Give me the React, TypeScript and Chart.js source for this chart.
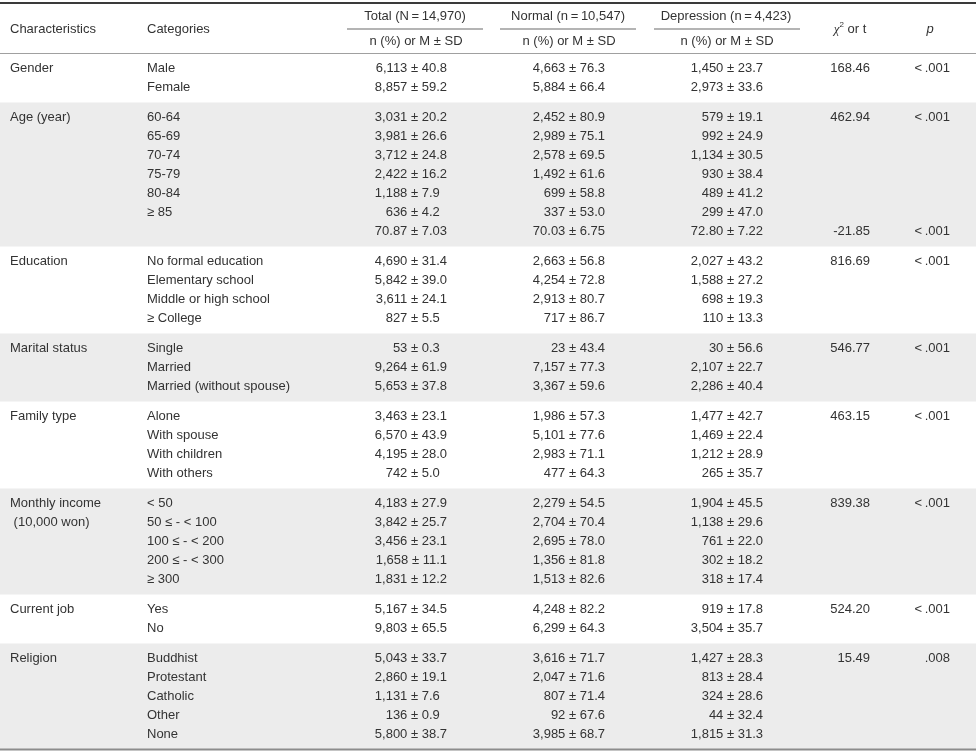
import React, { useEffect, useRef } from 'react';
import { Chart, registerables } from 'chart.js';

Chart.register(...registerables);

const W = 976;
const H = 754;

// ---------- data ----------
const groupNames: string[][] = [
  ['Gender'],
  ['Age (year)'],
  ['Education'],
  ['Marital status'],
  ['Family type'],
  ['Monthly income', ' (10,000 won)'],
  ['Current job'],
  ['Religion'],
];
const groupSizes = [2, 7, 4, 3, 4, 5, 2, 5];

const categories = [
  'Male', 'Female',
  '60-64', '65-69', '70-74', '75-79', '80-84', '\u2265 85', '',
  'No formal education', 'Elementary school', 'Middle or high school', '\u2265 College',
  'Single', 'Married', 'Married (without spouse)',
  'Alone', 'With spouse', 'With children', 'With others',
  '< 50', '50 \u2264 - < 100', '100 \u2264 - < 200', '200 \u2264 - < 300', '\u2265 300',
  'Yes', 'No',
  'Buddhist', 'Protestant', 'Catholic', 'Other', 'None',
];

const meanRows = [8];

const totalN = [6113, 8857, 3031, 3981, 3712, 2422, 1188, 636, 70.87, 4690, 5842, 3611, 827, 53, 9264, 5653, 3463, 6570, 4195, 742, 4183, 3842, 3456, 1658, 1831, 5167, 9803, 5043, 2860, 1131, 136, 5800];
const totalSD = [40.8, 59.2, 20.2, 26.6, 24.8, 16.2, 7.9, 4.2, 7.03, 31.4, 39.0, 24.1, 5.5, 0.3, 61.9, 37.8, 23.1, 43.9, 28.0, 5.0, 27.9, 25.7, 23.1, 11.1, 12.2, 34.5, 65.5, 33.7, 19.1, 7.6, 0.9, 38.7];
const normalN = [4663, 5884, 2452, 2989, 2578, 1492, 699, 337, 70.03, 2663, 4254, 2913, 717, 23, 7157, 3367, 1986, 5101, 2983, 477, 2279, 2704, 2695, 1356, 1513, 4248, 6299, 3616, 2047, 807, 92, 3985];
const normalSD = [76.3, 66.4, 80.9, 75.1, 69.5, 61.6, 58.8, 53.0, 6.75, 56.8, 72.8, 80.7, 86.7, 43.4, 77.3, 59.6, 57.3, 77.6, 71.1, 64.3, 54.5, 70.4, 78.0, 81.8, 82.6, 82.2, 64.3, 71.7, 71.6, 71.4, 67.6, 68.7];
const depN = [1450, 2973, 579, 992, 1134, 930, 489, 299, 72.80, 2027, 1588, 698, 110, 30, 2107, 2286, 1477, 1469, 1212, 265, 1904, 1138, 761, 302, 318, 919, 3504, 1427, 813, 324, 44, 1815];
const depSD = [23.7, 33.6, 19.1, 24.9, 30.5, 38.4, 41.2, 47.0, 7.22, 43.2, 27.2, 19.3, 13.3, 56.6, 22.7, 40.4, 42.7, 22.4, 28.9, 35.7, 45.5, 29.6, 22.0, 18.2, 17.4, 17.8, 35.7, 28.3, 28.4, 28.6, 32.4, 31.3];

const statRows = [0, 2, 8, 9, 13, 16, 20, 25, 27];
const statValues = [168.46, 462.94, -21.85, 816.69, 546.77, 463.15, 839.38, 524.20, 15.49];
const pValues = ['<\u2009.001', '<\u2009.001', '<\u2009.001', '<\u2009.001', '<\u2009.001', '<\u2009.001', '<\u2009.001', '<\u2009.001', '.008'];

const columnHeads = ['Total (N\u2009=\u200914,970)', 'Normal (n\u2009=\u200910,547)', 'Depression (n\u2009=\u20094,423)'];
const subHead = 'n (%) or M \u00b1 SD';

// ---------- layout (styles / positions, not data) ----------
const L = {
  headerBottom: 53.5,
  rowH: 19,
  pad: 5.5,
  charX: 10,
  catX: 147,
  totalX: 447,
  normalX: 605,
  depX: 763,
  statX: 870,
  pX: 950,
  headCenters: [415, 568, 726],
  underlines: [[347, 483], [500, 636], [654, 800]],
  chiCenter: 850,
  pCenter: 930,
  band: '#ececec',
  text: '#333333',
};
const FONT = '13px "Liberation Sans", Arial, sans-serif';

// compute row centres / group bounds from structure
const rowY: number[] = [];
const groupBounds: { top: number; bottom: number; first: number }[] = [];
{
  let y = L.headerBottom;
  let r = 0;
  groupSizes.forEach((n) => {
    const top = y;
    for (let i = 0; i < n; i++) rowY.push(top + L.pad + L.rowH * (i + 0.5));
    const bottom = top + 2 * L.pad + n * L.rowH;
    groupBounds.push({ top, bottom, first: r });
    r += n;
    y = bottom;
  });
}

const isMean = (i: number) => meanRows.includes(i);
const fmtN = (v: number, i: number) => (isMean(i) ? v.toFixed(2) : v.toLocaleString('en-US'));
const fmtSD = (v: number, i: number) => (isMean(i) ? v.toFixed(2) : v.toFixed(1));
const cell = (n: number[], sd: number[], i: number) => `${fmtN(n[i], i)} \u00b1 ${fmtSD(sd[i], i)}`;

const tablePlugin = {
  id: 'tablePlugin',
  beforeDatasetsDraw(chart: any) {
    const { ctx, scales } = chart;
    const x = scales.x;
    const y = scales.y;
    ctx.save();
    groupBounds.forEach((b, g) => {
      if (g % 2 === 1) {
        const y0 = y.getPixelForValue(b.top);
        const y1 = y.getPixelForValue(b.bottom);
        ctx.fillStyle = L.band;
        ctx.fillRect(x.getPixelForValue(0), y0, x.getPixelForValue(W) - x.getPixelForValue(0), y1 - y0);
      }
    });
    ctx.restore();
  },
  afterDatasetsDraw(chart: any) {
    const { ctx, scales } = chart;
    const x = scales.x;
    const y = scales.y;
    ctx.save();
    // rules
    ctx.fillStyle = '#3a3a3a';
    ctx.fillRect(x.getPixelForValue(0), y.getPixelForValue(2), W, 2);
    ctx.fillStyle = '#6a6a6a';
    L.underlines.forEach(([a, b]) => {
      ctx.fillRect(x.getPixelForValue(a), y.getPixelForValue(28.5), x.getPixelForValue(b) - x.getPixelForValue(a), 1);
    });
    ctx.fillStyle = '#a0a0a0';
    ctx.fillRect(x.getPixelForValue(0), y.getPixelForValue(L.headerBottom - 0.5), W, 1);
    const last = groupBounds[groupBounds.length - 1].bottom;
    ctx.fillStyle = '#8c8c8c';
    ctx.fillRect(x.getPixelForValue(0), y.getPixelForValue(last - 1), W, 2);

    // header text
    ctx.fillStyle = L.text;
    ctx.font = FONT;
    ctx.textBaseline = 'middle';
    ctx.textAlign = 'left';
    ctx.fillText('Characteristics', x.getPixelForValue(L.charX), y.getPixelForValue(29));
    ctx.fillText('Categories', x.getPixelForValue(L.catX), y.getPixelForValue(29));
    ctx.textAlign = 'center';
    columnHeads.forEach((h, i) => {
      ctx.fillText(h, x.getPixelForValue(L.headCenters[i]), y.getPixelForValue(16));
      ctx.fillText(subHead, x.getPixelForValue(L.headCenters[i] + 1), y.getPixelForValue(41));
    });
    // chi-square header
    const chiFont = 'italic 13px "Liberation Serif", "DejaVu Serif", serif';
    const supFont = '8px "Liberation Sans", Arial, sans-serif';
    ctx.font = chiFont;
    const wChi = ctx.measureText('\u03c7').width;
    ctx.font = supFont;
    const wSup = ctx.measureText('2').width;
    ctx.font = FONT;
    const wRest = ctx.measureText(' or t').width;
    let cx = x.getPixelForValue(L.chiCenter) - (wChi + wSup + wRest) / 2;
    const cy = y.getPixelForValue(29);
    ctx.textAlign = 'left';
    ctx.font = chiFont;
    ctx.fillText('\u03c7', cx, cy + 1);
    cx += wChi;
    ctx.font = supFont;
    ctx.fillText('2', cx, cy - 4);
    cx += wSup;
    ctx.font = FONT;
    ctx.fillText(' or t', cx, cy);
    ctx.font = 'italic 13px "Liberation Sans", Arial, sans-serif';
    ctx.textAlign = 'center';
    ctx.fillText('p', x.getPixelForValue(L.pCenter), cy);

    // cells
    ctx.font = FONT;
    const digitW = ctx.measureText('0').width;
    chart.data.datasets.forEach((ds: any, i: number) => {
      const meta = chart.getDatasetMeta(i);
      ctx.textAlign = ds.align;
      meta.data.forEach((el: any, j: number) => {
        const pt = ds.data[j];
        const xx = el.x - (pt.shift ? digitW : 0);
        ctx.fillText(pt.label, xx, el.y);
      });
    });
    ctx.restore();
  },
};

export default function App() {
  const ref = useRef<HTMLCanvasElement | null>(null);
  useEffect(() => {
    if (!ref.current) return;
    const groupPts: any[] = [];
    groupNames.forEach((lines, g) => {
      lines.forEach((t, k) => groupPts.push({ x: L.charX, y: rowY[groupBounds[g].first + k], label: t }));
    });
    const catPts = categories.map((c, i) => ({ x: L.catX, y: rowY[i], label: c }));
    const totalPts = totalN.map((_, i) => {
      const sdStr = fmtSD(totalSD[i], i);
      return { x: L.totalX, y: rowY[i], label: cell(totalN, totalSD, i), shift: sdStr.length < 4 };
    });
    const normalPts = normalN.map((_, i) => ({ x: L.normalX, y: rowY[i], label: cell(normalN, normalSD, i) }));
    const depPts = depN.map((_, i) => ({ x: L.depX, y: rowY[i], label: cell(depN, depSD, i) }));
    const statPts = statRows.map((r, k) => ({ x: L.statX, y: rowY[r], label: statValues[k].toFixed(2) }));
    const pPts = statRows.map((r, k) => ({ x: L.pX, y: rowY[r], label: pValues[k] }));

    const mk = (label: string, data: any[], align: string) => ({
      label,
      data,
      align,
      pointRadius: 0,
      pointHoverRadius: 0,
      showLine: false,
    });

    const chart = new Chart(ref.current, {
      type: 'scatter',
      data: {
        datasets: [
          mk('Characteristics', groupPts, 'left'),
          mk('Categories', catPts, 'left'),
          mk('Total', totalPts, 'right'),
          mk('Normal', normalPts, 'right'),
          mk('Depression', depPts, 'right'),
          mk('Statistic', statPts, 'right'),
          mk('p', pPts, 'right'),
        ] as any,
      },
      options: {
        animation: false,
        responsive: false,
        devicePixelRatio: 1,
        events: [],
        layout: { padding: 0 },
        plugins: { legend: { display: false }, tooltip: { enabled: false } },
        scales: {
          x: { type: 'linear', min: 0, max: W, display: false },
          y: { type: 'linear', min: 0, max: H, reverse: true, display: false },
        },
      } as any,
      plugins: [tablePlugin as any],
    });
    return () => chart.destroy();
  }, []);
  return (
    <div style={{ position: 'absolute', left: 0, top: 0, width: W, height: H, background: '#fff' }}>
      <canvas ref={ref} width={W} height={H} style={{ display: 'block' }} />
    </div>
  );
}
